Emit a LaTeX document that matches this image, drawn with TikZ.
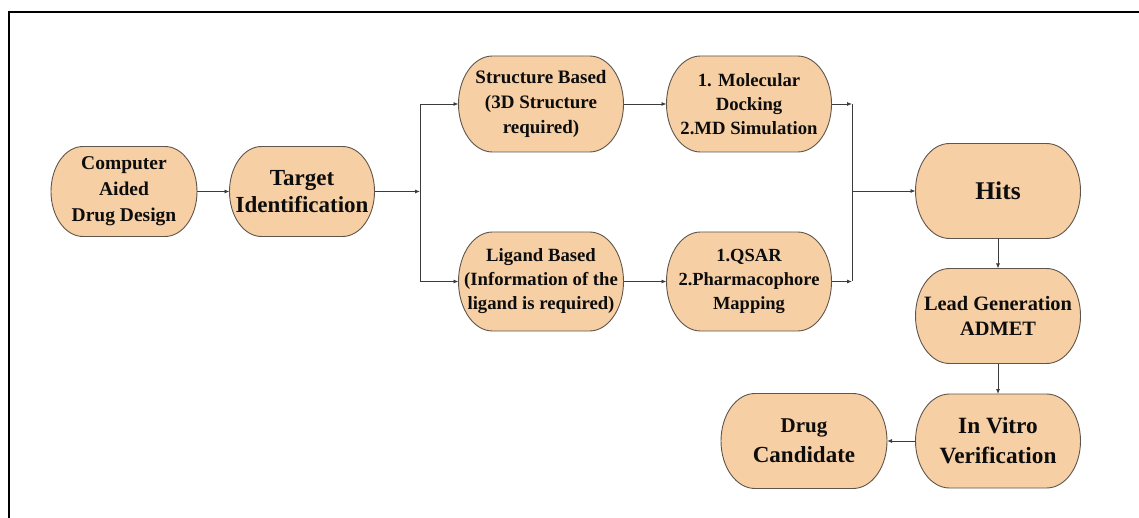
\documentclass[tikz,border=0pt]{standalone}
\usepackage{fontspec}
\setmainfont{Liberation Serif}
\usetikzlibrary{arrows.meta,backgrounds}
\definecolor{peach}{RGB}{247,207,165}
\definecolor{rim}{RGB}{95,85,75}
\definecolor{conn}{RGB}{60,60,60}
\tikzset{
  tbox/.style={inner sep=0pt, outer sep=0pt, align=center, text=black!95},
  tshape/.style={fill=peach, draw=rim, line width=0.9pt},
  arr/.style={draw=conn, line width=0.8pt, -{Latex[length=5pt,width=4pt]}},
  plainline/.style={draw=conn, line width=0.8pt},
}
\newcommand\tnode[7]{% name, pos, w, h, rx, font size/leading, text
  \node[tbox, font=\bfseries#6, minimum width=#3, minimum height=#4] (#1) at (#2) {#7};
  \begin{pgfonlayer}{background}
    \path[tshape] ([xshift=#5]#1.north west) -- ([xshift=-#5]#1.north east)
      arc[start angle=90, end angle=-90, x radius=#5, y radius=#4/2]
      -- ([xshift=#5]#1.south west)
      arc[start angle=270, end angle=90, x radius=#5, y radius=#4/2] -- cycle;
  \end{pgfonlayer}}
\newcommand\fs[2]{\fontsize{#1}{#2}\selectfont}
\begin{document}
\begin{tikzpicture}[x=1pt, y=-1pt]
  \useasboundingbox (0,0) rectangle (1139,518);
  % open frame
  \draw[line width=2.2pt, black] (9,518) -- (9,12) -- (1139,12);

  \tnode{cadd}{124,191.5}{146pt}{90pt}{32pt}{\fs{19.5}{26}}{Computer\\Aided\\Drug Design}
  \tnode{target}{302,191.5}{145pt}{90pt}{32pt}{\fs{23}{27}}{Target\\Identification}
  \tnode{struct}{541,104}{165pt}{96pt}{34pt}{\fs{19}{25}}{Structure Based\\(3D Structure\\required)}
  \tnode{mol}{749,104}{165pt}{96pt}{34pt}{\fs{18.7}{24}}{1. Molecular\\Docking\\2.MD Simulation}
  \tnode{ligand}{541,281.5}{165pt}{99pt}{34pt}{\fs{18.7}{24}}{Ligand Based\\(Information of the\\ligand is required)}
  \tnode{qsar}{749,281.5}{165pt}{99pt}{34pt}{\fs{18.5}{24}}{1.QSAR\\2.Pharmacophore\\Mapping}
  \tnode{hits}{998,191}{165pt}{95pt}{34pt}{\fs{25.5}{30}}{Hits}
  \tnode{lead}{998,316}{165pt}{95pt}{34pt}{\fs{20.4}{25}}{Lead Generation\\ADMET}
  \tnode{vitro}{998,441}{165pt}{94pt}{34pt}{\fs{23.3}{30}}{In Vitro\\Verification}
  \tnode{drug}{804,441}{166pt}{95pt}{34pt}{\fs{23}{30}}{{\fs{21}{30}Drug}\\Candidate}

  \coordinate (split) at (420,191.5);
  \coordinate (mtop) at (852,104);
  \coordinate (mbot) at (852,281.5);
  \coordinate (merge) at (852,191);

  \draw[arr] (cadd.east) -- (target.west);
  \draw[arr] (target.east) -- (split);
  \draw[arr] (split) |- (struct.west);
  \draw[arr] (split) |- (ligand.west);
  \draw[arr] (struct.east) -- (mol.west);
  \draw[arr] (ligand.east) -- (qsar.west);
  \draw[arr] (mol.east) -- (mtop);
  \draw[arr] (qsar.east) -- (mbot);
  \draw[plainline] (mtop) -- (mbot);
  \draw[arr] (merge) -- (hits.west);
  \draw[arr] (hits.south) -- (lead.north);
  \draw[arr] (lead.south) -- (vitro.north);
  \draw[arr] (vitro.west) -- (drug.east);
\end{tikzpicture}
\end{document}
